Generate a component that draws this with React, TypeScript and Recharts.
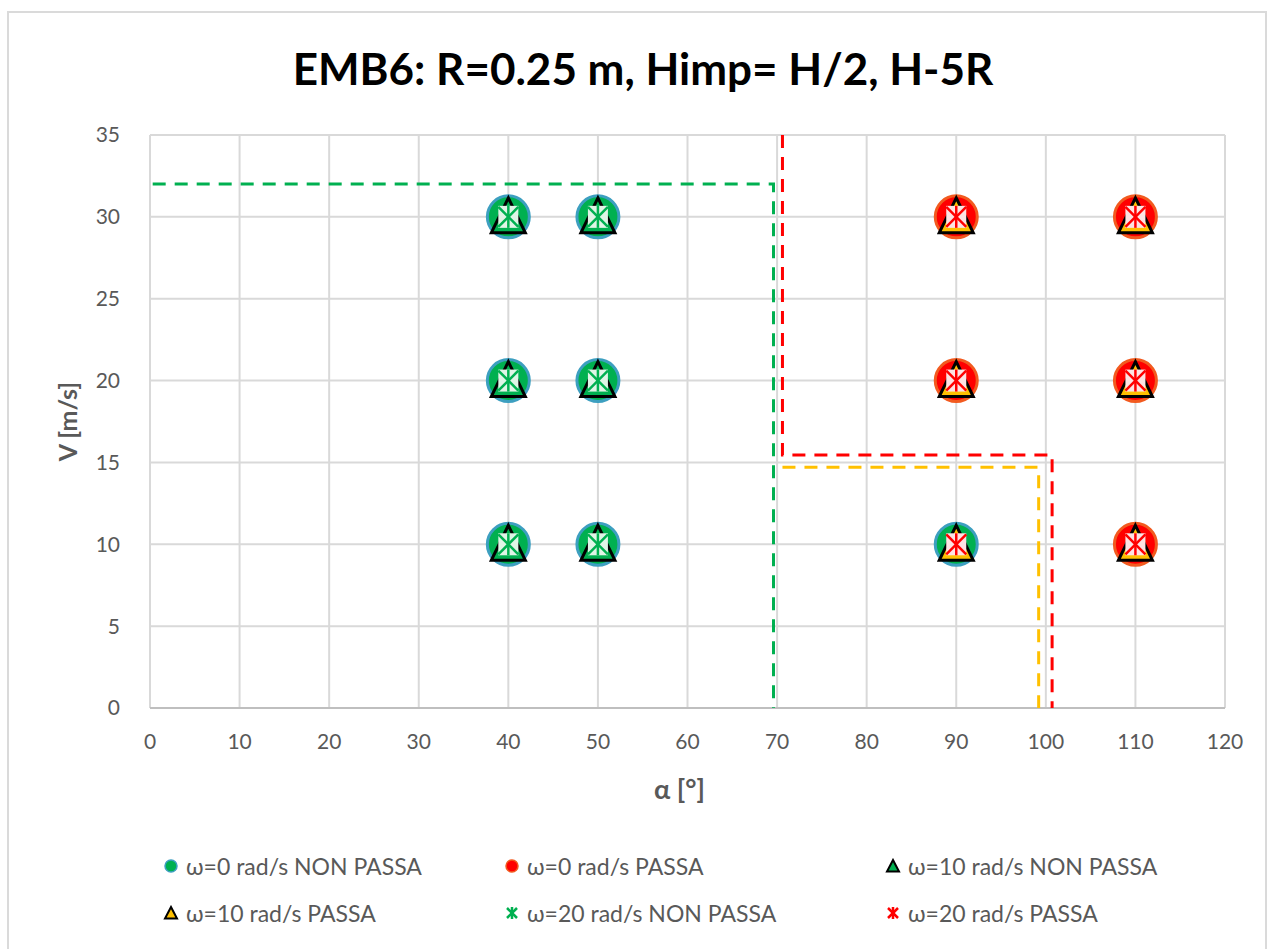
import { CartesianGrid, Legend, Scatter, ScatterChart, XAxis, YAxis } from "recharts";

type Pt = { alpha: number; v: number };

const xTicks = [0, 10, 20, 30, 40, 50, 60, 70, 80, 90, 100, 110, 120];
const yTicks = [0, 5, 10, 15, 20, 25, 30, 35];

// test points, one array per legend entry
const omega0NonPassa: Pt[] = [
  { alpha: 40, v: 10 },
  { alpha: 40, v: 20 },
  { alpha: 40, v: 30 },
  { alpha: 50, v: 10 },
  { alpha: 50, v: 20 },
  { alpha: 50, v: 30 },
  { alpha: 90, v: 10 },
];
const omega0Passa: Pt[] = [
  { alpha: 90, v: 20 },
  { alpha: 90, v: 30 },
  { alpha: 110, v: 10 },
  { alpha: 110, v: 20 },
  { alpha: 110, v: 30 },
];
const omega10NonPassa: Pt[] = [
  { alpha: 40, v: 10 },
  { alpha: 40, v: 20 },
  { alpha: 40, v: 30 },
  { alpha: 50, v: 10 },
  { alpha: 50, v: 20 },
  { alpha: 50, v: 30 },
];
const omega10Passa: Pt[] = [
  { alpha: 90, v: 10 },
  { alpha: 90, v: 20 },
  { alpha: 90, v: 30 },
  { alpha: 110, v: 10 },
  { alpha: 110, v: 20 },
  { alpha: 110, v: 30 },
];
const omega20NonPassa: Pt[] = [
  { alpha: 40, v: 10 },
  { alpha: 40, v: 20 },
  { alpha: 40, v: 30 },
  { alpha: 50, v: 10 },
  { alpha: 50, v: 20 },
  { alpha: 50, v: 30 },
];
const omega20Passa: Pt[] = [
  { alpha: 90, v: 10 },
  { alpha: 90, v: 20 },
  { alpha: 90, v: 30 },
  { alpha: 110, v: 10 },
  { alpha: 110, v: 20 },
  { alpha: 110, v: 30 },
];

// pass / no-pass boundaries for each spin rate
const boundary0: Pt[] = [
  { alpha: 0.3, v: 32 },
  { alpha: 69.6, v: 32 },
  { alpha: 69.6, v: 0 },
];
const boundary10: Pt[] = [
  { alpha: 70.6, v: 14.7 },
  { alpha: 99.2, v: 14.7 },
  { alpha: 99.2, v: 0 },
];
const boundary20: Pt[] = [
  { alpha: 70.6, v: 35 },
  { alpha: 70.6, v: 15.45 },
  { alpha: 100.7, v: 15.45 },
  { alpha: 100.7, v: 0 },
];

const GREEN = "#00b050";
const RED = "#ff0000";
const YELLOW = "#ffc000";
const TEXT = "#595959";
const FONT = "Lato, 'Open Sans', sans-serif";

const circleShape = (fill: string, stroke: string) => (props: any) => (
  <circle cx={props.cx} cy={props.cy} r={21} fill={fill} stroke={stroke} strokeWidth={3} />
);

const triangleShape = (fill: string) => (props: any) => {
  const { cx, cy } = props;
  return (
    <polygon
      points={`${cx},${cy - 19} ${cx + 17},${cy + 16} ${cx - 17},${cy + 16}`}
      fill={fill}
      stroke="#000"
      strokeWidth={3}
      strokeLinejoin="miter"
    />
  );
};

const starShape = (color: string, fill: string) => (props: any) => {
  const { cx, cy } = props;
  const h = 10;
  return (
    <g>
      <rect x={cx - h} y={cy - h - 1} width={h * 2} height={h * 2 + 2} fill={fill} />
      <g stroke={color} strokeWidth={2.5}>
        <line x1={cx - h} y1={cy - h} x2={cx + h} y2={cy + h} />
        <line x1={cx + h} y1={cy - h} x2={cx - h} y2={cy + h} />
        <line x1={cx} y1={cy - h - 1} x2={cx} y2={cy + h + 1} />
      </g>
    </g>
  );
};

const noDot = () => <g />;

const legendItems = [
  { label: "ω=0 rad/s NON PASSA", icon: "circle", color: GREEN, stroke: "#3d9fc0" },
  { label: "ω=0 rad/s PASSA", icon: "circle", color: RED, stroke: "#f25a1f" },
  { label: "ω=10 rad/s NON PASSA", icon: "tri", color: GREEN, stroke: "#000" },
  { label: "ω=10 rad/s PASSA", icon: "tri", color: YELLOW, stroke: "#000" },
  { label: "ω=20 rad/s NON PASSA", icon: "star", color: GREEN, stroke: GREEN },
  { label: "ω=20 rad/s PASSA", icon: "star", color: RED, stroke: RED },
];

const legendCols = [163, 504, 885];
const legendRows = [8, 55];

function LegendIcon({ icon, color, stroke }: { icon: string; color: string; stroke: string }) {
  return (
    <svg width={16} height={16} style={{ display: "block" }}>
      {icon === "circle" && <circle cx={8} cy={8} r={6} fill={color} stroke={stroke} strokeWidth={1.5} />}
      {icon === "tri" && (
        <polygon points="8,2 14,13.5 2,13.5" fill={color} stroke={stroke} strokeWidth={2} />
      )}
      {icon === "star" && (
        <g stroke={color} strokeWidth={2.5}>
          <line x1={3} y1={3} x2={13} y2={13} />
          <line x1={13} y1={3} x2={3} y2={13} />
          <line x1={8} y1={2} x2={8} y2={14} />
        </g>
      )}
    </svg>
  );
}

function renderLegend() {
  return (
    <div style={{ position: "relative", width: 1276, height: 100 }}>
      {legendItems.map((item, i) => (
        <div
          key={item.label}
          style={{
            position: "absolute",
            left: legendCols[i % 3],
            top: legendRows[Math.floor(i / 3)],
            display: "flex",
            alignItems: "center",
            gap: 7,
            fontFamily: FONT,
            fontSize: 23,
            color: TEXT,
            whiteSpace: "nowrap",
            lineHeight: "26px",
          }}
        >
          <LegendIcon icon={item.icon} color={item.color} stroke={item.stroke} />
          <span>{item.label}</span>
        </div>
      ))}
    </div>
  );
}

const tickStyle = { fill: TEXT, fontSize: 21, fontFamily: FONT };
const dashed = (color: string) => ({ stroke: color, strokeWidth: 3, strokeDasharray: "13 9" });

export default function App() {
  return (
    <div
      style={{
        position: "absolute",
        left: 0,
        top: 0,
        width: 1276,
        height: 949,
        background: "#fff",
        overflow: "hidden",
      }}
    >
      <div
        style={{
          position: "absolute",
          left: 7,
          top: 11,
          width: 1260,
          height: 960,
          border: "2px solid #dadada",
          boxSizing: "border-box",
        }}
      />
      <div
        style={{
          position: "absolute",
          left: 0,
          top: 40,
          width: 1286,
          textAlign: "center",
          fontFamily: FONT,
          fontWeight: 700,
          fontSize: 44,
          lineHeight: "56px",
          color: "#000",
        }}
      >
        EMB6: R=0.25 m, Himp= H/2, H-5R
      </div>
      <ScatterChart
        width={1276}
        height={949}
        margin={{ top: 135, right: 51, bottom: 101, left: 90 }}
        style={{ position: "absolute", left: 0, top: 0 }}
      >
        <CartesianGrid stroke="#d9d9d9" strokeWidth={2} />
        <XAxis
          type="number"
          dataKey="alpha"
          domain={[0, 120]}
          ticks={xTicks}
          interval={0}
          tick={tickStyle}
          tickLine={false}
          axisLine={{ stroke: "#bfbfbf", strokeWidth: 2 }}
          tickMargin={20}
          height={40}
          label={{
            value: "α [°]",
            position: "insideBottom",
            offset: -51,
            dx: -8,
            fill: TEXT,
            fontSize: 27,
            fontWeight: 700,
            fontFamily: FONT,
          }}
        />
        <YAxis
          type="number"
          dataKey="v"
          domain={[0, 35]}
          ticks={yTicks}
          interval={0}
          tick={tickStyle}
          tickLine={false}
          axisLine={false}
          tickMargin={24}
          width={60}
          label={{
            value: "V [m/s]",
            angle: -90,
            position: "insideLeft",
            offset: -22,
            fill: TEXT,
            fontSize: 25,
            fontWeight: 700,
            fontFamily: FONT,
            style: { textAnchor: "middle" },
          }}
        />
        <Scatter data={boundary0} line={dashed(GREEN)} shape={noDot} isAnimationActive={false} legendType="none" />
        <Scatter data={boundary10} line={dashed(YELLOW)} shape={noDot} isAnimationActive={false} legendType="none" />
        <Scatter data={boundary20} line={dashed(RED)} shape={noDot} isAnimationActive={false} legendType="none" />
        <Scatter name="ω=0 rad/s NON PASSA" data={omega0NonPassa} shape={circleShape(GREEN, "#3d9fc0")} isAnimationActive={false} />
        <Scatter name="ω=0 rad/s PASSA" data={omega0Passa} shape={circleShape(RED, "#f25a1f")} isAnimationActive={false} />
        <Scatter name="ω=10 rad/s NON PASSA" data={omega10NonPassa} shape={triangleShape(GREEN)} isAnimationActive={false} />
        <Scatter name="ω=10 rad/s PASSA" data={omega10Passa} shape={triangleShape(YELLOW)} isAnimationActive={false} />
        <Scatter name="ω=20 rad/s NON PASSA" data={omega20NonPassa} shape={starShape(GREEN, "#dff5e6")} isAnimationActive={false} />
        <Scatter name="ω=20 rad/s PASSA" data={omega20Passa} shape={starShape(RED, "#fde3e3")} isAnimationActive={false} />
        <Legend
          content={renderLegend}
          wrapperStyle={{ position: "absolute", left: 0, top: 845, width: 1276, height: 100 }}
        />
      </ScatterChart>
    </div>
  );
}
